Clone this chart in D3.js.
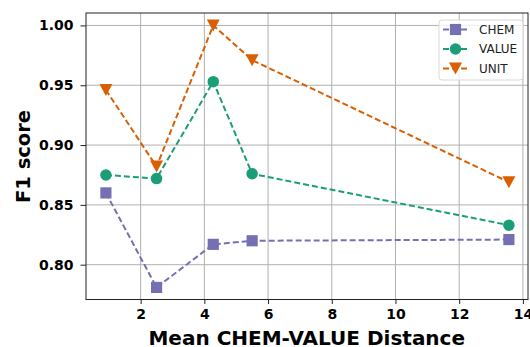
<!DOCTYPE html>
<html>
<head>
<meta charset="utf-8">
<script src="https://cdn.jsdelivr.net/npm/d3@7"></script>
<style>
  body { margin: 0; background: #fff; }
  text { font-family: "DejaVu Sans", sans-serif; }
</style>
</head>
<body>
<svg id="chart"></svg>
<script>
const distances = [0.91, 2.50, 4.28, 5.50, 13.56];
const chemScores = [0.860, 0.781, 0.817, 0.820, 0.821];
const valueScores = [0.875, 0.872, 0.953, 0.876, 0.833];
const unitScores = [0.946, 0.882, 1.000, 0.971, 0.869];
const seriesNames = ['CHEM', 'VALUE', 'UNIT'];
const xTicks = [2, 4, 6, 8, 10, 12, 14];
const yTicks = [0.80, 0.85, 0.90, 0.95, 1.00];

const margin = { top: 13, right: 2, bottom: 47.5, left: 86 };
const width = 530 - margin.left - margin.right;
const height = 347 - margin.top - margin.bottom;

const svg = d3.select('#chart').
  attr('width', 530).
  attr('height', 347);

const g = svg.append('g').
  attr('transform', `translate(${margin.left},${margin.top})`);

const xScale = d3.scaleLinear().domain([0.285, 14.16]).range([0, width]);
const yScale = d3.scaleLinear().domain([0.7709, 1.0104]).range([height, 0]);

const colors = d3.scaleOrdinal().
  domain(seriesNames).
  range(['#7570b3', '#1b9e77', '#d95f02']);

const symbols = {
  CHEM: d3.symbol().type(d3.symbolSquare).size(125),
  VALUE: d3.symbol().type(d3.symbolCircle).size(104),
};

// grid
g.append('g').selectAll('line').
  data(xTicks).
  enter().
  append('line').
  attr('x1', d => xScale(d)).attr('x2', d => xScale(d)).
  attr('y1', 0).attr('y2', height).
  attr('stroke', '#b0b0b0').attr('stroke-width', 1);
g.append('g').selectAll('line').
  data(yTicks).
  enter().
  append('line').
  attr('y1', d => yScale(d)).attr('y2', d => yScale(d)).
  attr('x1', 0).attr('x2', width).
  attr('stroke', '#b0b0b0').attr('stroke-width', 1);

const dataReady = [
  { name: 'CHEM', values: chemScores },
  { name: 'VALUE', values: valueScores },
  { name: 'UNIT', values: unitScores },
].map(s => ({
  name: s.name,
  values: s.values.map((v, i) => ({ x: distances[i], y: v })),
}));

const line = d3.line().
  x(d => xScale(d.x)).
  y(d => yScale(d.y));

g.selectAll('.series-line').
  data(dataReady).
  enter().
  append('path').
  attr('class', 'series-line').
  attr('d', d => line(d.values)).
  attr('fill', 'none').
  attr('stroke', d => colors(d.name)).
  attr('stroke-width', 2).
  attr('stroke-dasharray', '6,3');

function markerPath(name) {
  if (name === 'UNIT') {
    // triangle pointing down
    return 'M-6.5,-6L6.5,-6L0,6Z';
  }
  return symbols[name]();
}

g.selectAll('.series-dots').
  data(dataReady).
  enter().
  append('g').
  attr('fill', d => colors(d.name)).
  each(function (s) {
    d3.select(this).selectAll('path').
      data(s.values).
      enter().
      append('path').
      attr('d', markerPath(s.name)).
      attr('transform', d => `translate(${xScale(d.x)},${yScale(d.y)})`);
  });

// axes
const xAxis = g.append('g').
  attr('transform', `translate(0,${height})`).
  call(d3.axisBottom(xScale).tickValues(xTicks).tickSize(4.5).tickPadding(5.5).tickFormat(d3.format('d')));
const yAxis = g.append('g').
  call(d3.axisLeft(yScale).tickValues(yTicks).tickSize(5.5).tickPadding(7).tickFormat(d3.format('.2f')));

[xAxis, yAxis].forEach(ax => {
  ax.select('.domain').remove();
  ax.selectAll('text').
    style('font-family', '"DejaVu Sans", sans-serif').
    style('font-size', '14px').
    style('font-weight', 'bold').
    attr('fill', '#000');
  ax.selectAll('line').attr('stroke', '#222');
});

g.append('rect').
  attr('width', width).attr('height', height).
  attr('fill', 'none').attr('stroke', '#222').attr('stroke-width', 1);

// axis labels
svg.append('text').
  attr('x', 306.75).
  attr('y', 344.5).
  attr('text-anchor', 'middle').
  style('font-size', '20px').
  style('font-weight', 'bold').
  text('Mean CHEM-VALUE Distance');

svg.append('text').
  attr('transform', 'translate(30,156.5) rotate(-90)').
  attr('text-anchor', 'middle').
  style('font-size', '19.5px').
  style('font-weight', 'bold').
  text('F1 score');

// legend
const legend = g.append('g').
  attr('transform', `translate(${439 - margin.left},${20 - margin.top})`);
legend.append('rect').
  attr('width', 84).attr('height', 60).attr('rx', 3).
  attr('fill', '#fff').attr('fill-opacity', 0.8).
  attr('stroke', '#d8d8d8');

const items = legend.selectAll('.legend-item').
  data(dataReady).
  enter().
  append('g').
  attr('class', 'legend-item').
  attr('transform', (d, i) => `translate(0,${9.5 + i * 19.5})`);

items.append('line').
  attr('x1', 4).attr('x2', 29).
  attr('stroke', d => colors(d.name)).
  attr('stroke-width', 2).
  attr('stroke-dasharray', '6,3');
items.append('path').
  attr('d', d => markerPath(d.name)).
  attr('transform', 'translate(16.5,0)').
  attr('fill', d => colors(d.name));
items.append('text').
  attr('x', 40).
  attr('dy', '0.35em').
  style('font-size', '12px').
  attr('fill', '#222').
  text(d => d.name);
</script>
</body>
</html>
